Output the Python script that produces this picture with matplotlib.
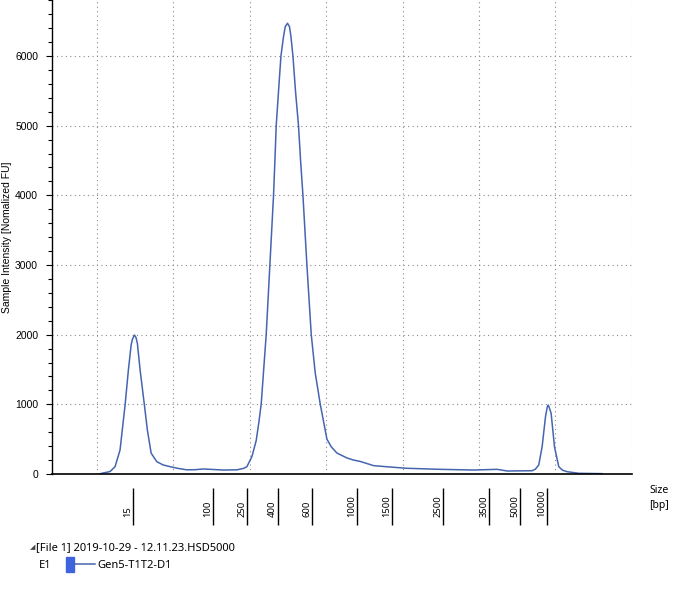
import matplotlib
matplotlib.use("Agg")
import matplotlib.pyplot as plt
import matplotlib.transforms as mtransforms
from matplotlib.ticker import MultipleLocator, NullFormatter

# electropherogram trace: migration time [s] vs intensity [normalized FU]
time_s = [30.39, 30.62, 31.70, 32.36, 33.01, 33.67, 34.10, 34.46, 34.62, 34.89,
          35.10, 35.28, 35.64, 36.20, 36.59, 37.08, 37.82, 38.65, 39.57, 40.62,
          41.76, 42.84, 43.89, 45.20, 46.51, 48.31, 49.17, 49.62, 50.28, 50.84,
          51.20, 51.49, 52.15, 52.63, 53.11, 53.29, 53.46, 53.76, 54.08, 54.42,
          54.64, 54.94, 55.20, 55.39, 55.65, 55.99, 56.38, 56.65, 56.96, 57.48,
          58.05, 58.57, 59.23, 60.10, 60.67, 61.42, 62.73, 63.59, 64.47, 66.21,
          68.40, 70.59, 74.95, 79.32, 82.39, 83.70, 86.97, 87.40, 87.84, 88.28,
          88.72, 88.95, 89.07, 89.20, 89.46, 89.90, 90.46, 90.94, 91.56, 93.08,
          96.15]
intensity = [0, 10, 35, 105, 345, 990, 1490, 1850, 1930, 1995,
             1960, 1875, 1490, 990, 630, 300, 177, 130, 105, 80,
             60, 62, 72, 65, 57, 60, 80, 105, 250, 480,
             750, 1000, 2000, 3000, 4000, 4500, 5000, 5490, 6000, 6280,
             6420, 6470, 6420, 6280, 6000, 5490, 5000, 4500, 4000, 3000,
             2000, 1450, 1000, 500, 390, 300, 230, 200, 180, 120,
             100, 82, 67, 57, 67, 43, 47, 70, 130, 390,
             820, 960, 990, 960, 870, 390, 105, 55, 33, 10,
             5]

ladder_bp = ["15", "100", "250", "400", "600", "1000", "1500", "2500", "3500", "5000", "10000"]
ladder_time = [34.72, 45.20, 49.66, 53.72, 58.18, 64.08, 68.66, 75.35, 81.38, 85.44, 88.98]

file_label = "[File 1] 2019-10-29 - 12.11.23.HSD5000"
well = "E1"
sample = "Gen5-T1T2-D1"

line_col = "#4565b0"
ui_font = ["Noto Sans", "DejaVu Sans"]

fig = plt.figure(figsize=(6.86, 6.02), dpi=100)
ax = fig.add_axes([52 / 686, 128 / 602, 580 / 686, 474 / 602])

ax.plot(time_s, intensity, color=line_col, lw=1.1)

ax.set_xlim(24.1, 100.05)
ax.set_ylim(0, 6804)

ax.xaxis.set_major_locator(MultipleLocator(10))
ax.xaxis.set_major_formatter(NullFormatter())
ax.tick_params(axis="x", length=0)
ax.yaxis.set_major_locator(MultipleLocator(1000))
ax.yaxis.set_minor_locator(MultipleLocator(200))
ax.tick_params(axis="y", which="major", length=4, width=0.8, pad=6,
               labelsize=7.5, labelfontfamily="Liberation Sans")
ax.tick_params(axis="y", which="minor", length=3, width=0.8)

ax.grid(True, which="major", color="#8a8a8a", linestyle=(0, (1, 3)), linewidth=0.8)
for s in ["top", "right"]:
    ax.spines[s].set_visible(False)
ax.spines["left"].set_linewidth(1.0)
ax.spines["bottom"].set_linewidth(1.2)

ax.text(-0.0784, 0.5, "Sample Intensity [Nomalized FU]", transform=ax.transAxes,
        rotation=90, ha="center", va="center", fontsize=7.5, family="Liberation Sans")

# size ladder under the axis
xt = ax.get_xaxis_transform()
ax.vlines(ladder_time, -0.0295, -0.1076, transform=xt, color="black", lw=1.0, clip_on=False)
lab_t = mtransforms.offset_copy(xt, fig=fig, x=-5.5, y=0, units="dots")
for t, b in zip(ladder_time, ladder_bp):
    ax.text(t, -0.0907, b, transform=lab_t, rotation=90, ha="center", va="bottom",
            fontsize=6.8, family=ui_font, clip_on=False)

fig.text(649 / 686, 1 - 485 / 602, "Size\n[bp]", ha="left", va="top",
         fontsize=7.5, family=ui_font, linespacing=1.5)

# legend block
fig.text(30 / 686, 1 - 548 / 602, "\u25e2", ha="left", va="center", fontsize=5,
         family=ui_font, color="#444444")
fig.text(36 / 686, 1 - 548 / 602, file_label, ha="left", va="center",
         fontsize=8, family=ui_font)
fig.text(39 / 686, 1 - 565 / 602, well, ha="left", va="center", fontsize=8, family=ui_font)
fig.patches.append(plt.Rectangle((66 / 686, 1 - 572 / 602), 7.5 / 686, 15 / 602,
                                 transform=fig.transFigure, color="#3d63dd", figure=fig))
fig.lines.append(plt.Line2D([74 / 686, 95 / 686], [1 - 564 / 602, 1 - 564 / 602],
                            transform=fig.transFigure, color=line_col, lw=1.1, figure=fig))
fig.text(97 / 686, 1 - 565 / 602, sample, ha="left", va="center", fontsize=8, family=ui_font)

fig.savefig("out.png", dpi=100)
